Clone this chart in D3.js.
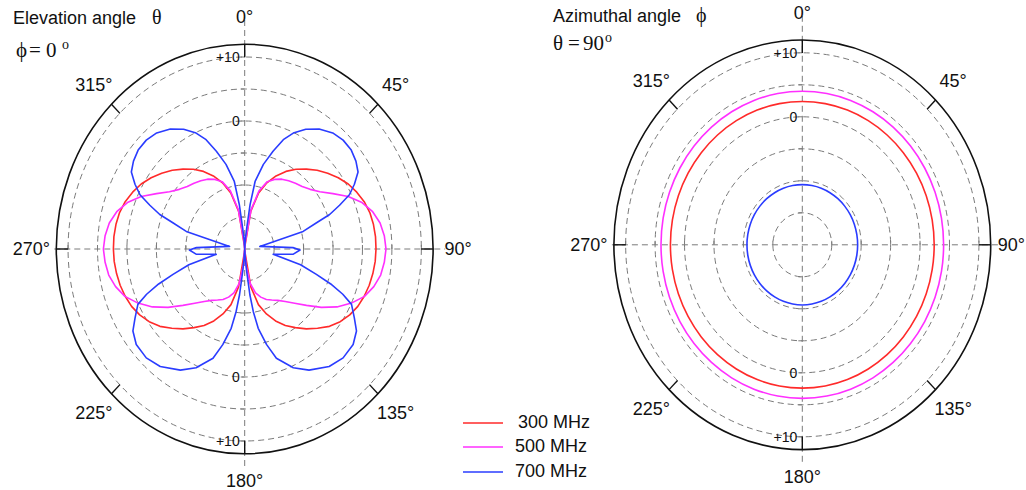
<!DOCTYPE html>
<html><head><meta charset="utf-8">
<script src="https://cdn.jsdelivr.net/npm/d3@7"></script>
<style>body{margin:0;background:#fff;} svg{display:block;}</style>
</head><body>
<svg id="chart" width="1026" height="490"></svg>
<script>
// ---------------- DATA ----------------
const seriesNames = ["300 MHz", "500 MHz", "700 MHz"];
const seriesColors = ["#ff2a2a", "#ff30ff", "#2a3cff"];
const ringValues = [-15, -10, -5, 0, 5, 10];
const ringLabelValues = [10, 0];
const ringLabelTexts = ["+10", "0"];
const angleTicks = [0, 45, 90, 135, 180, 225, 270, 315];
const angleTickLabels = ["0°", "45°", "90°", "135°", "180°", "225°", "270°", "315°"];
const radialDomain = [-20, 12];

// Elevation cut (phi = 0), theta in degrees, gain in dB
const elevAngles = [0,5,10,15,20,25,30,35,40,45,50,55,60,65,70,75,80,85,
  90,95,100,105,110,115,120,125,130,135,140,145,150,155,160,165,170,175,
  180,185,190,195,200,205,210,215,220,225,230,235,240,245,250,255,260,265,
  270,275,280,285,290,295,300,305,310,315,320,325,330,335,340,345,350,355];
const elev300 = [-20,-19.5,-14,-11,-9.0,-7.4,-6.0,-4.8,-3.7,-2.6,-1.6,-0.6,0.3,1.0,1.6,2.0,2.2,2.3,
  2.3,2.25,2.1,1.9,1.6,1.2,0.6,-0.2,-1.2,-2.5,-3.7,-5.0,-6.2,-7.6,-9.2,-11,-14,-19.5,
  -20,-19.5,-14,-11,-9.2,-7.6,-6.2,-5.0,-3.7,-2.5,-1.2,-0.2,0.6,1.2,1.6,1.9,2.1,2.25,
  2.3,2.3,2.2,2.0,1.6,1.0,0.3,-0.6,-1.6,-2.6,-3.7,-4.8,-6.0,-7.4,-9.0,-11,-14,-19.5];
const elev500 = [-20,-19,-13.8,-10.6,-8.8,-8.0,-7.4,-7.0,-6.6,-6.2,-5.5,-4.4,-2.7,-0.6,1.2,2.5,3.35,3.8,
  4.0,3.8,3.45,2.7,1.65,0.0,-1.9,-4.1,-6.3,-8.0,-9.3,-10.2,-10.8,-11.3,-12.0,-12.9,-14.5,-17.5,
  -20,-17.5,-14.5,-12.9,-12.0,-11.3,-10.8,-10.2,-9.3,-8.0,-6.3,-4.1,-1.9,0.0,1.65,2.7,3.45,3.8,
  4.0,3.8,3.35,2.5,1.2,-0.6,-2.7,-4.4,-5.5,-6.2,-6.6,-7.0,-7.4,-8.0,-8.8,-10.6,-13.8,-19];
const elev700Angles = [0,4,6,7.5,9.5,13.5,17.5,21,24.5,29,34,39.5,44.5,49.5,54,58,61.5,64.5,67,69.5,
  71.5,74.5,81,88.5,91,95.5,99.5,104.5,108,110.5,113,115.5,120,124,129,135.5,142,150,156,162.5,
  166,169.5,171.5,173,174.5,176,
  180,184,185.5,187,188.5,190.5,194,197.5,204,210,218,224.5,231,236,240,244.5,247,249.5,252,255.5,
  260.5,264.5,269,271.5,279,285.5,288.5,290.5,293,295.5,298.5,302,306,310.5,315.5,320.5,326,331,
  335.5,339,342.5,346.5,350.5,352.5,354,356];
const elev700 = [-20,-18.5,-16.7,-13,-9.3,-6.4,-4.0,-1.7,-0.1,1.4,2.6,3.5,3.85,3.8,3.35,2.7,1.2,-0.3,-2.5,-4.6,
  -7.2,-9.7,-17.4,-11.8,-10.6,-11.7,-15.1,-10.2,-7.2,-4.4,-1.9,0.1,1.5,2.9,3.7,3.85,3.3,1.85,0.3,-2.1,
  -4.6,-7.4,-10.1,-12.8,-16.5,-18.5,
  -20,-18.5,-16.5,-12.8,-10.1,-7.4,-4.6,-2.1,0.3,1.85,3.3,3.85,3.7,2.9,1.5,0.1,-1.9,-4.4,-7.2,-10.2,
  -15.1,-11.7,-10.6,-11.8,-17.4,-9.7,-7.2,-4.6,-2.5,-0.3,1.2,2.7,3.35,3.8,3.85,3.5,2.6,1.4,
  -0.1,-1.7,-4.0,-6.4,-9.3,-13,-16.7,-18.5];

// Azimuthal cut (theta = 90), phi in degrees, gain in dB
const azAngles = [0,10,20,30,40,50,60,70,80,90,100,110,120,130,140,150,160,170,
  180,190,200,210,220,230,240,250,260,270,280,290,300,310,320,330,340,350];
const az300 = [2.4,2.4,2.4,2.4,2.4,2.4,2.4,2.4,2.4,2.4,2.4,2.4,2.4,2.4,2.4,2.4,2.4,2.4,
  2.4,2.4,2.4,2.4,2.4,2.4,2.4,2.4,2.4,2.4,2.4,2.4,2.4,2.4,2.4,2.4,2.4,2.4];
const az500 = [4.0,4.0,4.0,4.0,4.0,4.0,4.0,4.0,4.0,4.0,4.0,4.0,4.0,4.0,4.0,4.0,4.0,4.0,
  4.0,4.0,4.0,4.0,4.0,4.0,4.0,4.0,4.0,4.0,4.0,4.0,4.0,4.0,4.0,4.0,4.0,4.0];
const az700 = [-10.6,-10.6,-10.6,-10.6,-10.6,-10.6,-10.6,-10.6,-10.6,-10.6,-10.6,-10.6,-10.6,-10.6,-10.6,-10.6,-10.6,-10.6,
  -10.6,-10.6,-10.6,-10.6,-10.6,-10.6,-10.6,-10.6,-10.6,-10.6,-10.6,-10.6,-10.6,-10.6,-10.6,-10.6,-10.6,-10.6];

// ---------------- DRAWING ----------------
const W = 1026;
const svg = d3.select("#chart");
const sansFont = "'Liberation Sans', Arial, Helvetica, sans-serif";
const serifFont = "'Liberation Serif', 'Times New Roman', serif";
const R = 204.8;
const rScale = d3.scaleLinear().domain(radialDomain).range([0, R]).clamp(true);
const sx = 0.92;

function drawPolar(cx, cy, series, curve) {
  const g = svg.append("g");
  const ptR = (a, rr) => { const t = a * Math.PI / 180; return [cx + sx * rr * Math.sin(t), cy - rr * Math.cos(t)]; };
  const pt = (a, v) => ptR(a, rScale(v));
  const gridColor = "#7a7a7a";

  ringValues.forEach(v => {
    g.append("ellipse").attr("cx", cx).attr("cy", cy)
      .attr("rx", sx * rScale(v)).attr("ry", rScale(v))
      .attr("fill", "none").attr("stroke", gridColor).attr("stroke-width", 1)
      .attr("stroke-dasharray", "6,4");
  });
  g.append("line").attr("x1", cx).attr("x2", cx).attr("y1", cy - 229).attr("y2", cy + 221)
    .attr("stroke", gridColor).attr("stroke-dasharray", "6,4");
  g.append("line").attr("y1", cy).attr("y2", cy).attr("x1", cx - sx * R - 2).attr("x2", cx + sx * R + 12)
    .attr("stroke", gridColor).attr("stroke-dasharray", "6,4");
  ringValues.forEach(v => {
    const rr = rScale(v);
    [-1, 1].forEach(s => {
      g.append("line").attr("x1", cx - 4).attr("x2", cx).attr("y1", cy + s * rr).attr("y2", cy + s * rr)
        .attr("stroke", gridColor);
      g.append("line").attr("x1", cx + s * sx * rr).attr("x2", cx + s * sx * rr).attr("y1", cy - 4).attr("y2", cy)
        .attr("stroke", gridColor);
    });
  });
  ringLabelValues.forEach((v, i) => {
    [-1, 1].forEach(s => {
      g.append("text").attr("x", cx - 5).attr("y", cy + s * rScale(v))
        .attr("text-anchor", "end").attr("dominant-baseline", "central")
        .attr("font-family", sansFont).attr("font-size", 14).attr("fill", "#111")
        .text(ringLabelTexts[i]);
    });
  });
  g.append("ellipse").attr("cx", cx).attr("cy", cy).attr("rx", sx * R).attr("ry", R)
    .attr("fill", "none").attr("stroke", "#111").attr("stroke-width", 1.6);
  angleTicks.forEach((a, i) => {
    const p1 = ptR(a, R), p2 = ptR(a, R - 13);
    g.append("line").attr("x1", p1[0]).attr("y1", p1[1]).attr("x2", p2[0]).attr("y2", p2[1])
      .attr("stroke", "#111").attr("stroke-width", 1.4);
    const pl = ptR(a, 232);
    const txt = g.append("text").attr("x", pl[0]).attr("y", pl[1])
      .attr("text-anchor", "middle").attr("dominant-baseline", "central")
      .attr("font-family", sansFont).attr("font-size", 18).attr("fill", "#111")
      .text(angleTickLabels[i]);
    // keep label inside the picture
    const w = txt.node().getComputedTextLength();
    if (pl[0] + w / 2 > W - 1) txt.attr("x", W - 1 - w / 2);
  });
  const line = d3.line().x(d => pt(d[0], d[1])[0]).y(d => pt(d[0], d[1])[1]).curve(curve);
  series.forEach((s, i) => {
    g.append("path").datum(d3.zip(s.angles, s.values))
      .attr("d", line).attr("fill", "none")
      .attr("stroke", seriesColors[i]).attr("stroke-width", 1.6).attr("stroke-linejoin", "round");
  });
}

drawPolar(244.7, 249, [
  {angles: elevAngles, values: elev300},
  {angles: elevAngles, values: elev500},
  {angles: elev700Angles, values: elev700}
], d3.curveLinearClosed);
drawPolar(802.3, 244.8, [
  {angles: azAngles, values: az300},
  {angles: azAngles, values: az500},
  {angles: azAngles, values: az700}
], d3.curveCatmullRomClosed.alpha(0.5));

// titles
function title(x, y, label, symX, sym) {
  svg.append("text").attr("x", x).attr("y", y).attr("font-family", sansFont).attr("font-size", 18)
    .attr("fill", "#111").text(label);
  svg.append("text").attr("x", symX).attr("y", y).attr("font-family", serifFont).attr("font-size", 20)
    .attr("fill", "#111").text(sym);
}
title(13, 24, "Elevation angle", 152, "θ");
title(553, 22, "Azimuthal angle", 696, "ϕ");

function subTitle(y, parts) {
  const t = svg.append("text").attr("y", y).attr("font-family", serifFont).attr("font-size", 21).attr("fill", "#111");
  parts.forEach(p => {
    t.append("tspan").attr("x", p.x).attr("y", y + (p.sup ? -8 : 0))
      .attr("font-size", p.sup ? 14 : 21).text(p.s);
  });
}
subTitle(57, [{x: 16, s: "ϕ"}, {x: 29, s: "="}, {x: 46, s: "0"}, {x: 62, s: "o", sup: true}]);
subTitle(50, [{x: 553, s: "θ"}, {x: 568, s: "="}, {x: 583, s: "90"}, {x: 605, s: "o", sup: true}]);

// legend
const legendY = [423, 447, 472];
const legendTextX = [518, 515, 515];
seriesNames.forEach((n, i) => {
  svg.append("line").attr("x1", 463).attr("x2", 503).attr("y1", legendY[i]).attr("y2", legendY[i])
    .attr("stroke", seriesColors[i]).attr("stroke-width", 1.6);
  svg.append("text").attr("x", legendTextX[i]).attr("y", legendY[i] + 5).attr("font-family", sansFont)
    .attr("font-size", 18).attr("fill", "#111").text(n);
});
</script>
</body></html>
